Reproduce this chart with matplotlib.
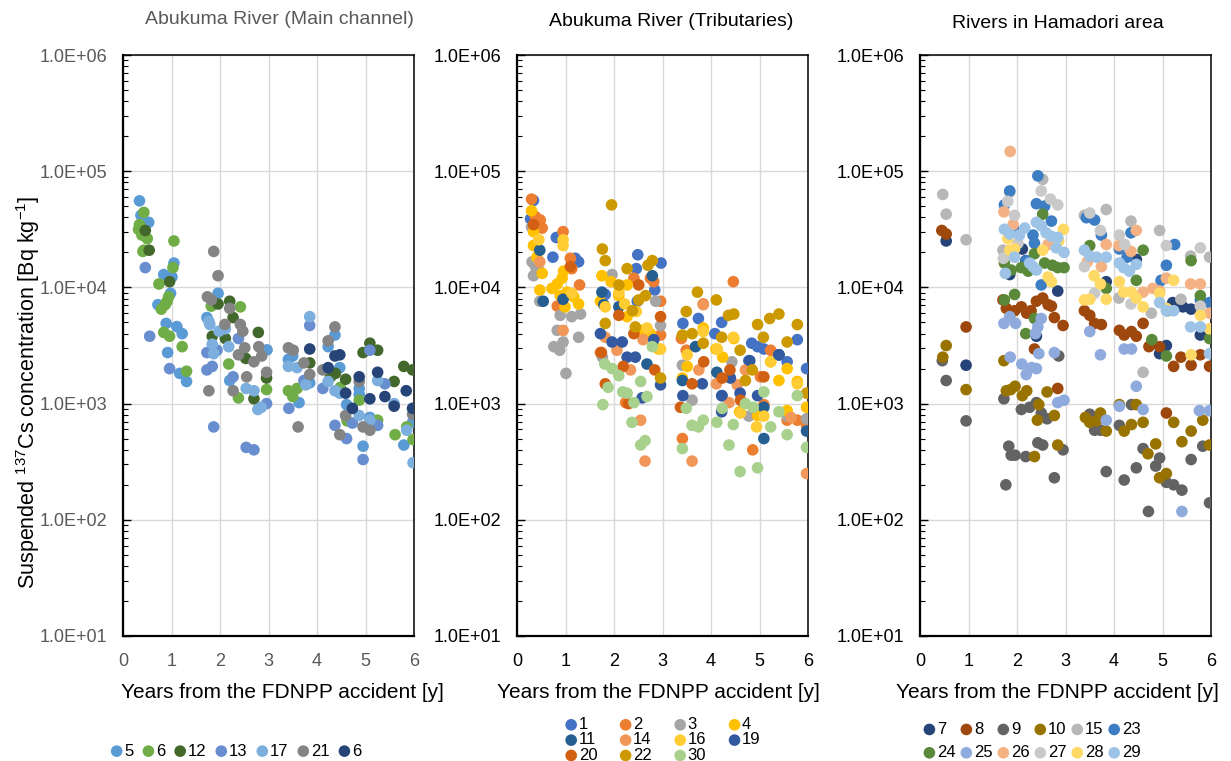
import matplotlib
matplotlib.use('Agg')
import matplotlib.pyplot as plt
from matplotlib.ticker import LogLocator, FuncFormatter, NullFormatter

plt.rcParams['font.family'] = ['Liberation Sans', 'DejaVu Sans']
plt.rcParams['mathtext.fontset'] = 'custom'
plt.rcParams['mathtext.rm'] = 'Liberation Sans'

# ---- Abukuma River (Main channel) ----
m5_yr = [0.34, 0.37, 0.53, 1.05, 0.84, 1.01, 0.98, 0.72, 0.89, 1.11, 1.22, 0.92, 1.17, 1.31, 1.96, 1.73, 2.2, 2.97,
         3.41, 3.5, 3.85, 3.63, 4.23, 4.37, 4.47, 4.61, 4.87, 4.87, 5.09, 4.95, 5.97, 5.79]
m5_bq = [55600, 41700, 36300, 16200, 12900, 12300, 8900, 7100, 4900, 4600, 4000, 2750, 1820, 1550, 8900, 5500, 1580, 2900,
         2400, 2570, 1510, 1020, 3090, 3890, 2040, 980, 1350, 1200, 760, 430, 690, 440]
m6_yr = [0.43, 0.34, 0.32, 0.39, 0.5, 0.43, 0.41, 1.05, 1.03, 0.74, 0.94, 0.91, 0.87, 0.79, 0.84, 0.96, 1.22, 1.31,
         1.82, 2.42, 2.18, 2.38, 2.96, 3.41, 3.5, 3.59, 4.48, 4.62, 4.87, 5.25, 5.85, 5.61, 5.98]
m6_bq = [44200, 34700, 31600, 28200, 26300, 20900, 20400, 25100, 14800, 10700, 8300, 7600, 7100, 6500, 4100, 3800, 3090, 1900,
         6900, 6800, 2190, 1120, 1320, 1290, 1150, 1350, 1380, 710, 1070, 720, 630, 540, 490]
m12_yr = [0.46, 0.54, 0.96, 1.96, 2.2, 2.27, 2.79, 1.84, 2.11, 2.53, 2.96, 2.7, 3.85, 4.28, 4.38, 4.59, 5.09, 4.95,
          5.25, 5.59, 5.79, 5.97]
m12_bq = [30900, 20900, 11200, 7200, 7600, 5500, 4100, 3800, 3630, 2450, 1660, 1100, 2240, 1700, 1820, 1620, 3310, 2750,
          2880, 1550, 2090, 1950]
m13_yr = [0.46, 0.55, 0.96, 1.73, 1.94, 2.38, 1.73, 1.84, 2.27, 2.96, 1.87, 2.54, 2.7, 3.73, 3.42, 3.85, 4.12, 4.73,
          4.37, 4.61, 5.09, 5.25, 4.95, 5.4]
m13_bq = [14800, 3800, 2000, 2750, 2880, 3630, 1950, 2090, 1700, 1000, 630, 420, 400, 1580, 910, 4700, 1350, 680,
          650, 500, 2880, 650, 330, 1480]
m17_yr = [1.77, 1.79, 1.98, 2.11, 1.84, 2.18, 1.87, 2.54, 2.7, 2.78, 2.85, 3.41, 3.59, 3.77, 3.85, 4.23, 4.37, 4.47,
          4.87, 5.09, 5.25, 5.59, 5.85, 5.98]
m17_bq = [5100, 4800, 4200, 4400, 3240, 3090, 2690, 1350, 1290, 890, 930, 2090, 2040, 1450, 5600, 1550, 1290, 1230,
          790, 720, 1580, 1000, 590, 310]
m21_yr = [1.87, 1.96, 1.74, 1.82, 2.2, 2.1, 2.42, 2.47, 2.38, 2.51, 2.8, 2.7, 2.86, 2.55, 2.96, 1.77, 2.27, 3.41,
          3.51, 3.73, 3.85, 3.61, 4.37, 4.23, 4.12, 4.87, 4.59, 4.47, 4.95, 5.09, 5.97]
m21_bq = [20400, 12600, 8300, 7800, 6600, 4800, 4800, 4200, 2630, 3020, 3090, 2290, 2570, 1700, 1860, 1290, 1290, 3020,
          2880, 2240, 1780, 630, 4570, 3470, 1950, 1550, 790, 540, 630, 590, 810]
m6b_yr = [3.85, 4.37, 4.47, 4.23, 4.59, 4.73, 4.87, 5.09, 5.25, 5.4, 5.59, 5.84, 5.97]
m6b_bq = [2950, 2570, 2630, 2040, 1230, 910, 1700, 1100, 1860, 1150, 950, 1290, 910]

# ---- Abukuma River (Tributaries) ----
t1_yr = [0.34, 0.28, 0.74, 0.81, 1.27, 1.2, 2.49, 2.46, 2.97, 2.84, 1.82, 2.48, 3.74, 3.42, 4.22, 4.08, 4.78, 4.84,
         4.96, 5.09, 5.4, 5.57, 5.78, 5.97, 4.23]
t1_bq = [56000, 38900, 18200, 26900, 16600, 17800, 19100, 14500, 16200, 9500, 8700, 7600, 5400, 4900, 5000, 4000, 2340, 3310,
         3090, 2950, 2630, 2290, 3550, 2000, 1170]
t2_yr = [0.3, 0.38, 0.48, 0.52, 0.95, 1.1, 1.13, 1.29, 0.83, 2.41, 2.75, 2.82, 2.96, 3.84, 4.46, 3.39, 3.49, 5.23,
         5.02, 2.24, 4.86, 3.41, 5.57, 5.78, 5.97, 5.09, 1.72, 2.96]
t2_bq = [57500, 40700, 38000, 32400, 30200, 17800, 14500, 10500, 6900, 12000, 12000, 11200, 7600, 7200, 11200, 3630, 2880, 2880,
         1700, 1020, 400, 500, 720, 720, 650, 980, 2750, 3890]
t3_yr = [0.3, 0.31, 0.34, 0.38, 0.47, 0.89, 0.83, 0.76, 0.88, 0.95, 1.01, 1.13, 1.31, 1.27, 0.47, 1.96, 1.76, 2.86,
         2.96, 3.41, 3.61, 4.43, 4.78, 5.57, 5.97]
t3_bq = [33100, 16600, 12600, 15100, 13800, 5750, 4270, 3090, 2880, 3390, 1820, 5600, 5900, 3720, 7600, 12900, 2510, 7600,
         4700, 2140, 1070, 2290, 780, 780, 740]
t4_yr = [0.3, 0.34, 0.34, 0.41, 0.52, 0.47, 0.72, 0.83, 0.89, 1.03, 1.17, 1.27, 0.99, 0.96, 0.93, 1.75, 1.72, 1.94,
         2.1, 2.27, 2.27, 2.55, 2.75, 2.92, 3.41, 3.51, 3.84, 4.1, 4.24, 4.47, 4.59, 4.96, 5.23, 5.4, 5.57, 5.78, 5.97, 5.57]
t4_bq = [45700, 30200, 22900, 18200, 13200, 9500, 9800, 10700, 8500, 9100, 8300, 7200, 6800, 13800, 12000, 12600, 7600, 11200,
         8500, 10500, 5600, 4270, 4000, 2950, 1660, 2090, 4470, 2950, 2510, 3630, 850, 790, 2290, 1580, 2000, 1550, 930, 870]
t11_yr = [0.47, 0.54, 0.95, 1.75, 1.79, 2.1, 2.79, 2.68, 3.41, 3.68, 4.12, 5.09, 5.09, 5.97, 5.4]
t11_bq = [20900, 7600, 7900, 9100, 7100, 6800, 12600, 2190, 1580, 3090, 1860, 930, 500, 580, 2630]
t14_yr = [0.47, 0.95, 1.82, 2.06, 2.34, 2.55, 2.64, 3.61, 3.75, 4.11, 4.54, 4.71, 5.97, 4.37, 5.65, 3.84, 2.6]
t14_bq = [16600, 4270, 3720, 2880, 1950, 720, 320, 320, 1950, 1480, 1450, 1950, 250, 1020, 760, 7100, 3550]
t16_yr = [0.45, 0.95, 0.95, 1.13, 1.82, 2.1, 2.22, 2.46, 2.68, 2.96, 3.51, 3.84, 4.13, 4.46, 4.61, 4.94, 5.23, 5.78, 5.09]
t16_bq = [25700, 25700, 22900, 8900, 6800, 9100, 7200, 6200, 4470, 2950, 2630, 4170, 2950, 3720, 830, 630, 2290, 1480, 780]
t19_yr = [1.72, 1.96, 2.17, 2.27, 2.44, 2.82, 2.96, 3.42, 3.82, 4.4, 4.22, 4.6, 4.96, 4.8, 5.4, 4.22, 2.58]
t19_bq = [4000, 3390, 3390, 2510, 2510, 3550, 1450, 1170, 1480, 1660, 1170, 1230, 1170, 2340, 2630, 850, 1120]
t20_yr = [0.34, 1.1, 1.74, 1.82, 2.1, 2.19, 2.41, 2.51, 2.84, 2.96, 3.61, 3.85, 4.39, 4.23, 4.61, 5.09, 3.37, 2.3]
t20_bq = [34700, 15100, 2750, 1480, 5750, 2090, 4000, 10500, 1950, 5600, 1480, 2290, 1950, 1660, 1070, 1700, 930, 1000]
t22_yr = [1.95, 1.76, 1.82, 2.27, 2.1, 2.7, 2.79, 2.51, 2.65, 2.38, 2.44, 1.82, 2.96, 3.49, 3.72, 4.11, 4.36, 4.47,
          3.61, 3.84, 4.22, 4.6, 4.96, 5.08, 5.21, 5.4, 5.78, 5.57, 4.71, 4.85, 5.97, 3.41]
t22_bq = [51300, 21400, 17000, 14500, 10500, 15500, 17000, 7800, 8500, 6300, 4570, 4900, 1660, 6200, 9100, 7800, 5750, 5900,
          4000, 3310, 3720, 2880, 4790, 3720, 5400, 5900, 4790, 3390, 1580, 1950, 1230, 3890]
t30_yr = [1.81, 1.96, 2.1, 1.88, 2.18, 2.27, 2.41, 2.55, 2.68, 2.79, 1.77, 2.37, 2.55, 2.64, 3.41, 3.49, 3.61, 3.74,
          3.84, 4.12, 4.23, 4.37, 4.46, 4.6, 4.71, 4.87, 4.96, 5.09, 5.23, 5.4, 5.57, 5.78, 5.97]
t30_bq = [2190, 2000, 1740, 1380, 1260, 1230, 1020, 1550, 1150, 3090, 980, 690, 440, 480, 410, 910, 650, 630,
          720, 690, 910, 440, 660, 260, 1000, 930, 280, 1260, 630, 850, 540, 1170, 420]

# ---- Rivers in Hamadori area ----
h7_yr = [0.54, 0.95, 2.11, 2.18, 1.85, 2.84, 3.84, 4.46, 4.94, 5.08, 5.21, 5.42, 5.59, 5.78, 2.4]
h7_bq = [25100, 2140, 21400, 17000, 12900, 9300, 11200, 17400, 2690, 3160, 7400, 6800, 6500, 3890, 3800]
h8_yr = [0.45, 0.54, 0.95, 1.71, 1.78, 1.95, 2.09, 2.2, 2.29, 2.4, 2.53, 2.64, 2.71, 2.77, 2.95, 2.36, 2.84, 3.39,
         3.5, 3.6, 3.74, 4.11, 4.21, 4.36, 4.46, 4.6, 4.72, 4.94, 5.23, 5.38, 5.59, 5.78, 5.97, 5.08]
h8_bq = [30900, 28800, 4570, 7800, 6600, 6300, 6800, 6000, 6300, 7600, 8100, 7100, 6900, 5500, 4700, 2950, 1350, 6300,
         5750, 4900, 4790, 4270, 3890, 4170, 3800, 4900, 3090, 3090, 2090, 2510, 2140, 2630, 2090, 830]
h9_yr = [0.46, 0.54, 0.95, 1.73, 2.09, 2.26, 2.4, 2.5, 2.62, 1.83, 1.88, 1.96, 2.18, 2.43, 2.53, 2.95, 2.77, 1.77,
         2.86, 3.5, 3.6, 3.72, 3.84, 4.11, 4.21, 4.36, 4.46, 4.6, 4.86, 4.94, 5.08, 5.23, 5.4, 5.59, 5.83, 5.97, 4.71]
h9_bq = [2340, 1580, 710, 1100, 890, 930, 1020, 830, 740, 430, 360, 360, 350, 460, 440, 400, 230, 200,
         2570, 810, 590, 590, 260, 650, 220, 980, 280, 410, 290, 340, 210, 200, 180, 330, 430, 140, 118]
h10_yr = [0.47, 0.54, 0.95, 1.73, 1.78, 1.87, 1.96, 2.11, 2.2, 2.45, 2.42, 2.62, 2.77, 2.84, 2.36, 3.41, 3.5, 3.64,
          3.72, 3.84, 4.11, 4.21, 4.36, 4.46, 4.6, 4.7, 4.86, 4.94, 5.08, 5.23, 5.4, 5.59, 5.83, 5.97]
h10_bq = [2510, 3160, 1320, 2340, 1290, 1320, 1410, 1170, 1290, 980, 720, 1260, 790, 440, 350, 760, 690, 710,
          830, 580, 980, 580, 660, 980, 690, 370, 450, 230, 250, 690, 470, 580, 720, 440]
h15_yr = [0.47, 0.54, 0.95, 1.85, 2.53, 3.39, 3.84, 4.35, 4.94, 5.58, 5.97, 4.1, 4.77, 5.38, 4.6, 1.71]
h15_bq = [63100, 42700, 25700, 66100, 85100, 41700, 46800, 37200, 30900, 18600, 18200, 8100, 6000, 7900, 1860, 20900]
h23_yr = [1.85, 1.74, 2.43, 2.4, 2.57, 2.71, 1.95, 2.33, 2.36, 3.43, 3.6, 3.74, 4.11, 4.35, 4.27, 5.08, 5.25, 4.97,
          5.78, 5.97, 2.5, 2.19]
h23_bq = [67600, 51300, 91200, 52500, 50100, 37200, 30900, 28200, 24000, 39800, 38000, 28200, 21400, 29500, 18200, 15500, 23400, 11500,
          7800, 7400, 10500, 17000]
h24_yr = [2.53, 2.36, 2.57, 2.73, 2.84, 2.97, 1.74, 1.88, 2.09, 2.23, 3.5, 3.84, 4.6, 4.46, 4.78, 5.08, 5.1, 5.59,
          5.78, 5.97, 1.95, 1.74, 2.36, 2.18]
h24_bq = [42700, 19500, 16200, 15500, 14800, 14800, 16200, 14100, 14800, 13800, 22900, 9800, 20900, 11500, 3550, 2570, 6300, 17000,
          8500, 3630, 8700, 7800, 5400, 4000]
h25_yr = [1.73, 1.85, 1.97, 2.43, 2.5, 2.38, 1.86, 2.1, 2.19, 2.3, 2.4, 2.45, 2.77, 2.84, 2.97, 3.5, 3.72, 3.84,
          4.11, 4.21, 4.36, 4.46, 4.6, 5.76, 5.97, 5.4]
h25_bq = [4900, 5600, 4900, 4570, 5400, 4000, 2510, 2190, 1780, 2040, 2000, 2690, 2750, 1020, 1070, 4170, 2630, 720,
          950, 2950, 2950, 1410, 890, 870, 870, 118]
h26_yr = [1.86, 1.73, 1.92, 2.84, 2.64, 3.84, 3.45, 3.74, 4.1, 4.46, 4.35, 4.6, 4.8, 4.94, 5.08, 5.58, 5.78, 5.97]
h26_bq = [148000, 44700, 34700, 25100, 23400, 23400, 16600, 15100, 22900, 30900, 20400, 9100, 9800, 9300, 12000, 10700, 10700, 6000]
h27_yr = [1.81, 1.95, 2.5, 2.69, 2.84, 3.5, 3.72, 4.11, 4.22, 5.08, 5.78, 4.35, 5.78, 3.6, 2.02, 3.39, 1.72]
h27_bq = [55000, 41700, 67600, 57500, 51300, 43700, 30900, 28200, 23400, 22900, 21900, 7200, 6900, 8900, 24000, 15100, 17800]
h28_yr = [1.81, 1.85, 1.95, 2.53, 2.96, 2.86, 2.64, 2.71, 3.59, 3.39, 3.5, 3.72, 3.84, 4.11, 4.2, 4.36, 4.46, 4.6,
          4.94, 5.23, 5.08, 5.78, 5.97, 5.59]
h28_bq = [26300, 20900, 21400, 20900, 31600, 25100, 12300, 11200, 12600, 7800, 7900, 10700, 7900, 11200, 9100, 9100, 8100, 6800,
          8900, 11500, 6600, 5750, 4400, 2630]
h29_yr = [1.74, 1.76, 1.85, 1.95, 2.16, 2.05, 2.26, 2.33, 2.4, 2.4, 2.5, 2.6, 2.71, 2.84, 2.81, 2.97, 3.39, 3.5,
          3.64, 3.84, 4.11, 4.2, 4.32, 4.46, 4.94, 5.08, 5.23, 5.58, 5.78, 5.97]
h29_bq = [31600, 13200, 28800, 18200, 32400, 28200, 16200, 15100, 14100, 36300, 33900, 29500, 27500, 26900, 21900, 20000, 20900, 18600,
          18200, 18200, 16200, 14800, 13800, 15800, 7400, 6300, 6300, 4570, 4570, 2690]

main_series = [('5', m5_yr, m5_bq, '#5B9BD5'), ('6', m6_yr, m6_bq, '#70AD47'), ('12', m12_yr, m12_bq, '#43682B'),
               ('13', m13_yr, m13_bq, '#698ED0'), ('17', m17_yr, m17_bq, '#7CAFDD'), ('21', m21_yr, m21_bq, '#848484'),
               ('6', m6b_yr, m6b_bq, '#264478')]
trib_series = [('1', t1_yr, t1_bq, '#4472C4'), ('2', t2_yr, t2_bq, '#ED7D31'), ('3', t3_yr, t3_bq, '#A5A5A5'),
               ('4', t4_yr, t4_bq, '#FFC000'), ('11', t11_yr, t11_bq, '#255E91'), ('14', t14_yr, t14_bq, '#F1975A'),
               ('16', t16_yr, t16_bq, '#FFCD33'), ('19', t19_yr, t19_bq, '#335AA1'), ('20', t20_yr, t20_bq, '#D26012'),
               ('22', t22_yr, t22_bq, '#CC9A00'), ('30', t30_yr, t30_bq, '#A9D18E')]
hama_series = [('7', h7_yr, h7_bq, '#264478'), ('8', h8_yr, h8_bq, '#9E480E'), ('9', h9_yr, h9_bq, '#636363'),
               ('10', h10_yr, h10_bq, '#997300'), ('15', h15_yr, h15_bq, '#B7B7B7'), ('23', h23_yr, h23_bq, '#3C7DC4'),
               ('24', h24_yr, h24_bq, '#5A8A39'), ('25', h25_yr, h25_bq, '#8FAADC'), ('26', h26_yr, h26_bq, '#F4B183'),
               ('27', h27_yr, h27_bq, '#C9C9C9'), ('28', h28_yr, h28_bq, '#FFD966'), ('29', h29_yr, h29_bq, '#9DC3E6')]

W, H = 1231, 761
fig = plt.figure(figsize=(W / 100, H / 100), dpi=100)


def px_ax(left, right, top, bottom):
    return fig.add_axes([left / W, 1 - bottom / H, (right - left) / W, (bottom - top) / H])


def style_axes(ax, tick_color):
    ax.set_yscale('log')
    ax.set_ylim(10, 1e6)
    ax.set_xlim(0, 6)
    ax.set_xticks(range(7))
    ax.yaxis.set_major_locator(LogLocator(base=10, numticks=10))
    ax.yaxis.set_minor_locator(LogLocator(base=10, subs=range(2, 10), numticks=20))
    ax.yaxis.set_major_formatter(FuncFormatter(lambda v, _: f'{v:.1E}'))
    ax.yaxis.set_minor_formatter(NullFormatter())
    ax.tick_params(axis='y', which='major', direction='in', length=6, width=1, pad=11,
                   labelsize=13, labelcolor=tick_color)
    ax.tick_params(axis='y', which='minor', direction='in', length=3.5, width=0.8)
    ax.tick_params(axis='x', length=0, pad=12, labelsize=13, labelcolor=tick_color)
    ax.grid(True, which='major', color='#D9D9D9', lw=1)
    ax.set_axisbelow(True)
    for side, sp in ax.spines.items():
        sp.set_color('black')
        sp.set_linewidth(1.6 if side in ('left', 'bottom') else 1.1)


def draw(ax, series):
    handles = []
    for lab, xs, ys, col in series:
        h = ax.scatter(xs, ys, s=70, color=col, edgecolors='none', label=lab, zorder=3)
        handles.append(h)
    return handles


ax1 = px_ax(123, 414, 55, 636)
ax2 = px_ax(517, 808, 55, 636)
ax3 = px_ax(920, 1211, 55, 636)

h1 = draw(ax1, main_series)
h2 = draw(ax2, trib_series)
h3 = draw(ax3, hama_series)

style_axes(ax1, '#595959')
style_axes(ax2, 'black')
style_axes(ax3, 'black')

# titles
fig.text(279 / W, 1 - 20 / H, 'Abukuma River (Main channel)', ha='center', va='center', fontsize=14, color='#595959')
fig.text(671 / W, 1 - 22 / H, 'Abukuma River (Tributaries)', ha='center', va='center', fontsize=14, color='black')
fig.text(1058 / W, 1 - 24 / H, 'Rivers in Hamadori area', ha='center', va='center', fontsize=14, color='black')

# axis labels
for cx in (282, 658, 1057):
    fig.text(cx / W, 1 - 692 / H, 'Years from the FDNPP accident [y]', ha='center', va='center', fontsize=15)
fig.text(28 / W, 1 - 392 / H, r'Suspended $\mathregular{^{137}}$Cs concentration [Bq kg$\mathregular{^{-1}}$]',
         rotation=90, ha='center', va='center', fontsize=15.5)

# legends
leg_kw = dict(frameon=False, fontsize=12, handlelength=0.7, handletextpad=0.1, scatterpoints=1, borderpad=0.1)
fig.legend(h1, [s[0] for s in main_series], loc='center', bbox_to_anchor=(236 / W, 1 - 751 / H),
           ncol=7, columnspacing=0.55, **leg_kw)
order2 = [0, 4, 8, 1, 5, 9, 2, 6, 10, 3, 7]
fig.legend([h2[i] for i in order2], [trib_series[i][0] for i in order2], loc='center',
           bbox_to_anchor=(663 / W, 1 - 740 / H), ncol=4, columnspacing=1.35, labelspacing=0.02, **leg_kw)
order3 = [0, 6, 1, 7, 2, 8, 3, 9, 4, 10, 5, 11]
fig.legend([h3[i] for i in order3], [hama_series[i][0] for i in order3], loc='center',
           bbox_to_anchor=(1032 / W, 1 - 741 / H), ncol=6, columnspacing=0.3, labelspacing=0.5, **leg_kw)

fig.savefig('out.png', dpi=100)
